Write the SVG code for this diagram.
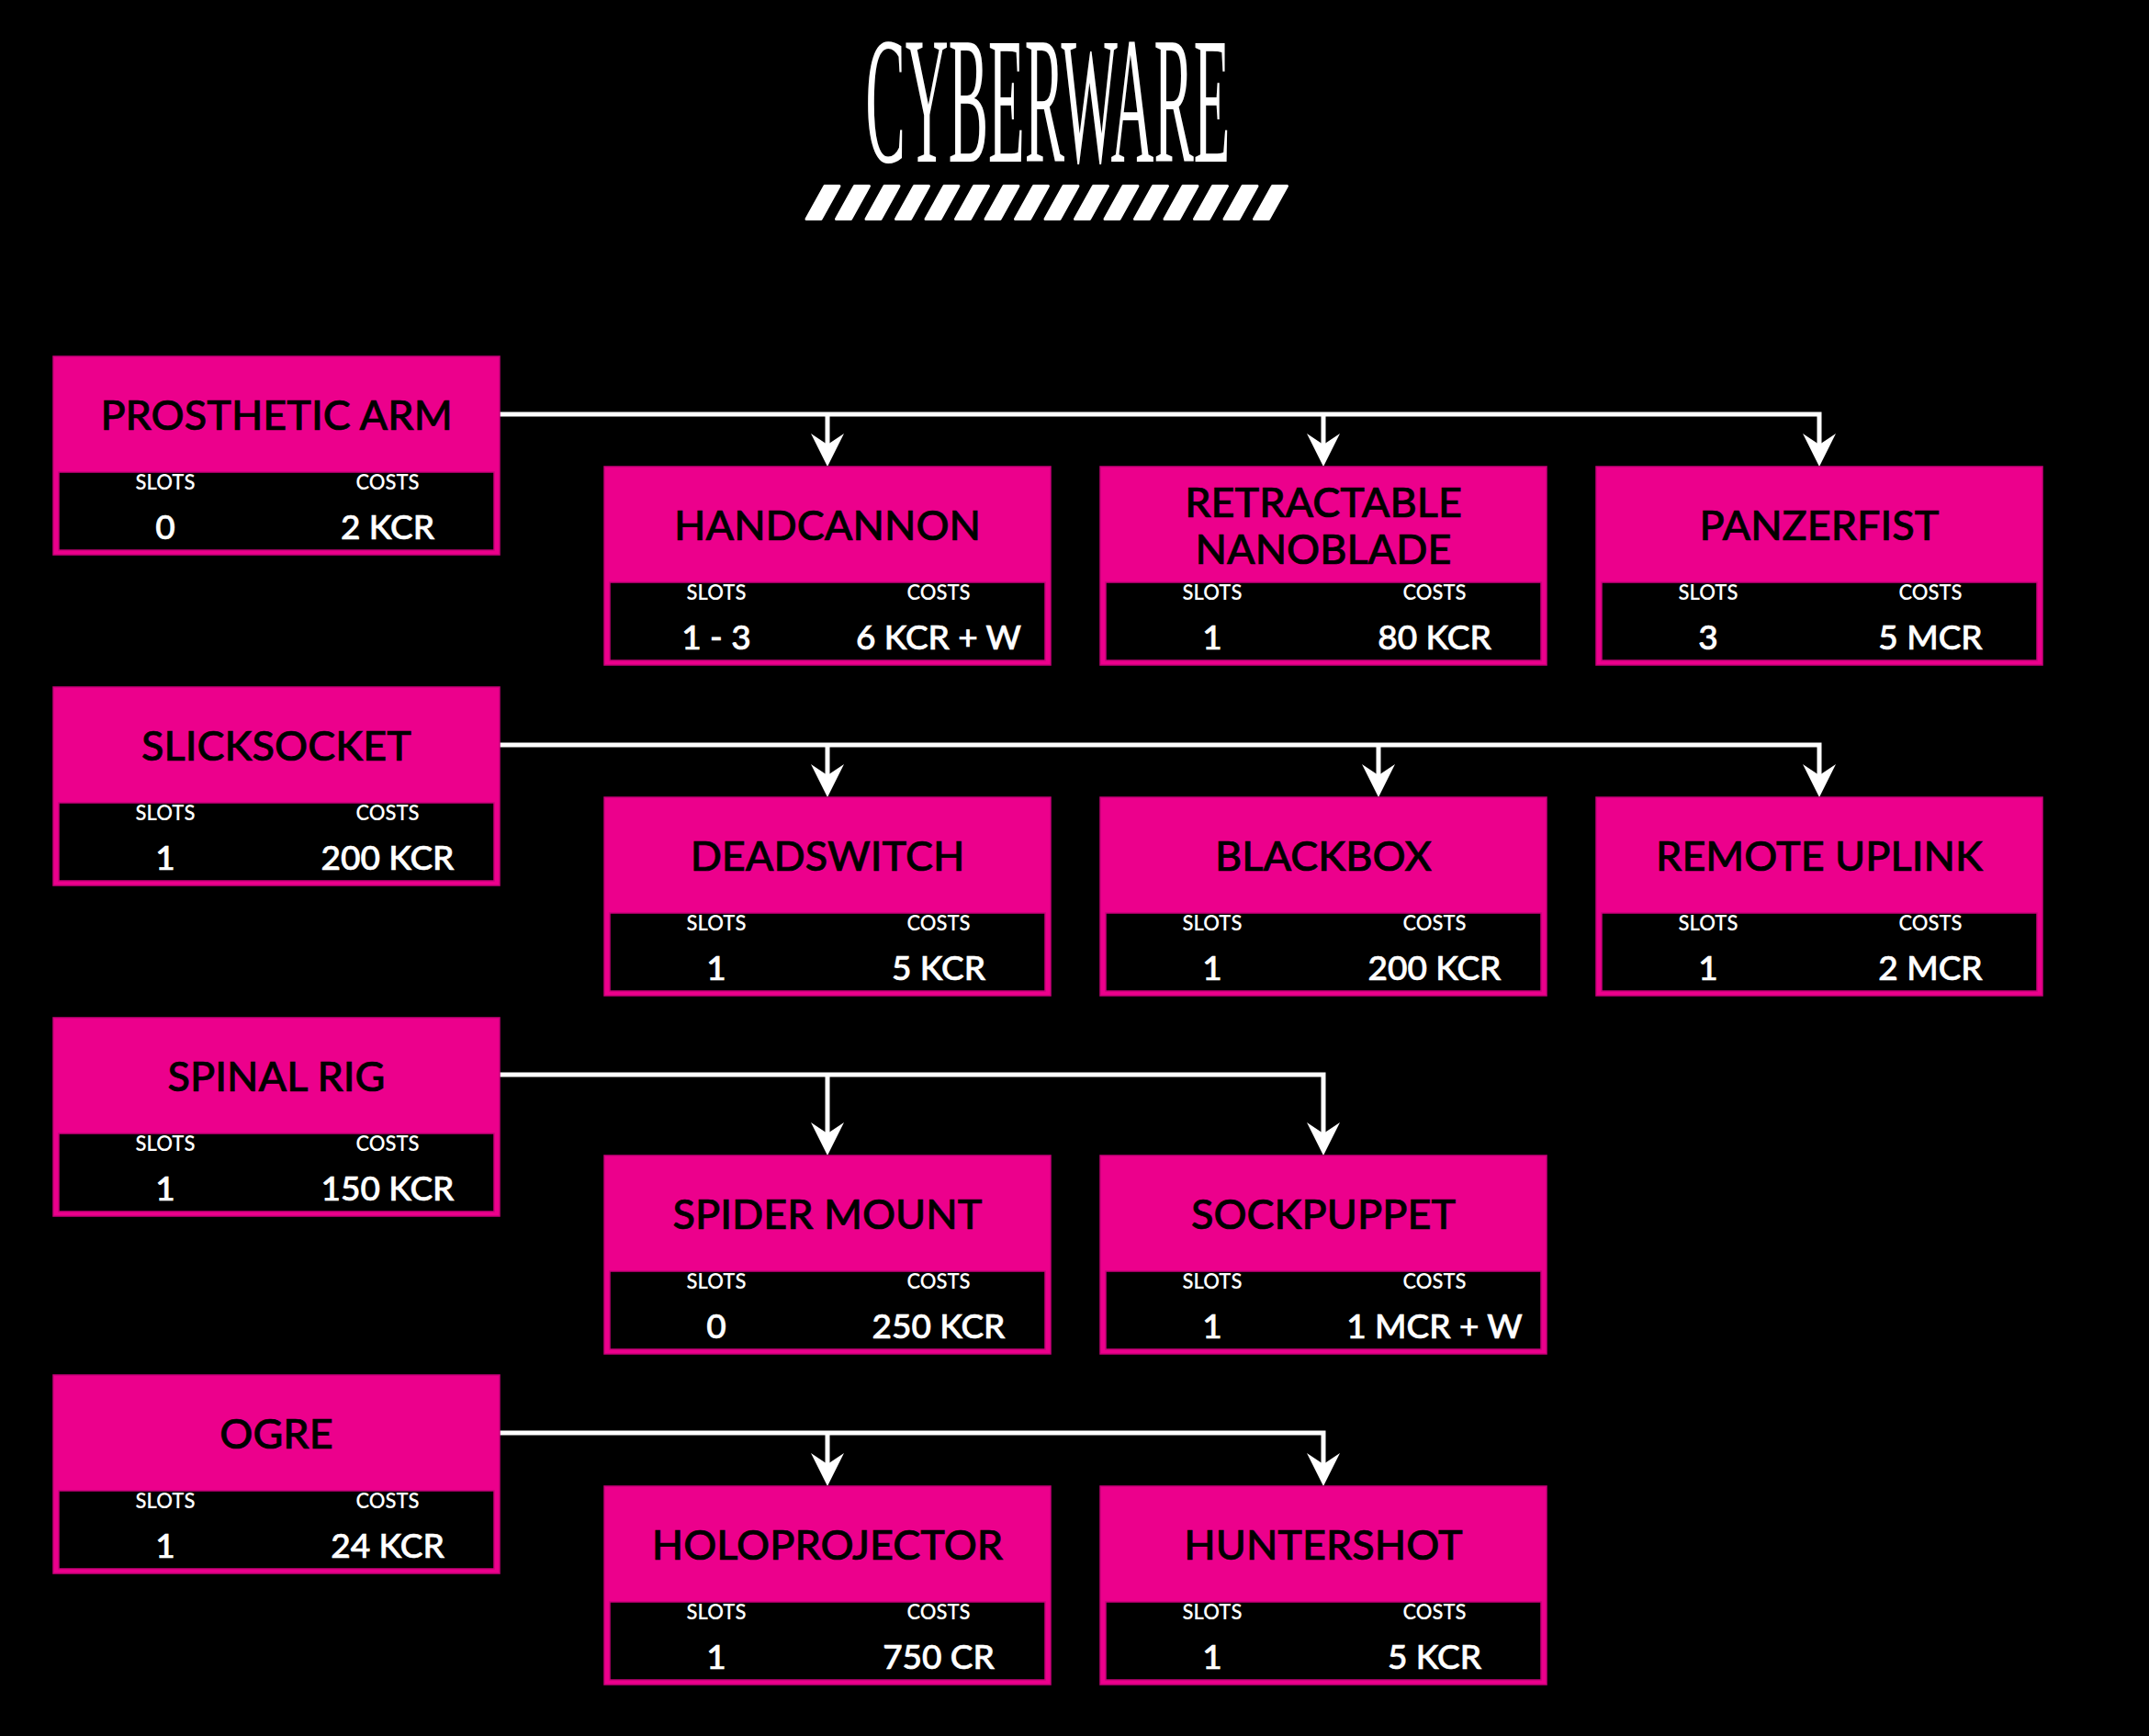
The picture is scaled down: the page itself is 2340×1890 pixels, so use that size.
<svg xmlns="http://www.w3.org/2000/svg" width="2340" height="1890" viewBox="0 0 2340 1890">
<style>
.bg{fill:#000}
.card{fill:#ec008c;stroke:#c8007a;stroke-width:1.5}
.body{fill:#000;stroke:#c8007a;stroke-width:1.5}
.ttl{font-family:Lato,"Noto Sans",sans-serif;font-size:45px;font-weight:500;fill:#000;stroke:#000;stroke-width:0.7;text-anchor:middle}
.lbl{font-family:Lato,"Noto Sans",sans-serif;font-size:22px;font-weight:600;fill:#fff;text-anchor:middle}
.val{font-family:Lato,"Noto Sans",sans-serif;font-size:37px;font-weight:500;fill:#fff;stroke:#fff;stroke-width:0.7;text-anchor:middle}
.con{fill:none;stroke:#fff;stroke-width:5;stroke-linejoin:miter}
.head{font-family:"Liberation Serif","DejaVu Serif",serif;font-size:198px;fill:#fff;text-anchor:middle}
</style>
<defs>
<marker id="arr" markerUnits="userSpaceOnUse" markerWidth="40" markerHeight="40" viewBox="0 0 40 40" refX="12" refY="20" orient="auto">
<path d="M0,2 L36,20 L0,38 L12,20 z" fill="#fff"/>
</marker>
<path id="stripe" d="M23,202.5 H39 L19,238.5 H3 Z" fill="#fff" stroke="#fff" stroke-width="3" stroke-linejoin="round"/>
</defs>
<rect class="bg" x="0" y="0" width="2340" height="1890"/>

<g id="title">
<text class="head" transform="translate(1141,176) scale(0.328,1)">CYBERWARE</text>
<g id="stripes">
<use href="#stripe" x="875"/><use href="#stripe" x="907.5"/><use href="#stripe" x="940"/><use href="#stripe" x="972.5"/>
<use href="#stripe" x="1005"/><use href="#stripe" x="1037.5"/><use href="#stripe" x="1070"/><use href="#stripe" x="1102.5"/>
<use href="#stripe" x="1135"/><use href="#stripe" x="1167.5"/><use href="#stripe" x="1200"/><use href="#stripe" x="1232.5"/>
<use href="#stripe" x="1265"/><use href="#stripe" x="1297.5"/><use href="#stripe" x="1330"/><use href="#stripe" x="1362.5"/>
</g>
</g>

<g id="connectors">
<path class="con" d="M544,451 H1981 V484" marker-end="url(#arr)"/>
<path class="con" d="M901,451 V484" marker-end="url(#arr)"/>
<path class="con" d="M1441,451 V484" marker-end="url(#arr)"/>
<path class="con" d="M544,811 H1981 V844" marker-end="url(#arr)"/>
<path class="con" d="M901,811 V844" marker-end="url(#arr)"/>
<path class="con" d="M1501,811 V844" marker-end="url(#arr)"/>
<path class="con" d="M544,1170 H1441 V1234" marker-end="url(#arr)"/>
<path class="con" d="M901,1170 V1234" marker-end="url(#arr)"/>
<path class="con" d="M544,1560 H1441 V1594" marker-end="url(#arr)"/>
<path class="con" d="M901,1560 V1594" marker-end="url(#arr)"/>
</g>

<g id="prosthetic-arm">
<rect class="card" x="58" y="388" width="486" height="216"/><rect class="body" x="64" y="514" width="474" height="85"/>
<text class="ttl" x="301" y="468">PROSTHETIC ARM</text>
<text class="lbl" x="180" y="533">SLOTS</text><text class="lbl" x="422" y="533">COSTS</text>
<text class="val" x="180" y="587">0</text><text class="val" x="422" y="587">2 KCR</text>
</g>
<g id="handcannon">
<rect class="card" x="658" y="508" width="486" height="216"/><rect class="body" x="664" y="634" width="474" height="85"/>
<text class="ttl" x="901" y="588">HANDCANNON</text>
<text class="lbl" x="780" y="653">SLOTS</text><text class="lbl" x="1022" y="653">COSTS</text>
<text class="val" x="780" y="707">1 - 3</text><text class="val" x="1022" y="707">6 KCR + W</text>
</g>
<g id="retractable-nanoblade">
<rect class="card" x="1198" y="508" width="486" height="216"/><rect class="body" x="1204" y="634" width="474" height="85"/>
<text class="ttl" x="1441" y="563">RETRACTABLE</text><text class="ttl" x="1441" y="614">NANOBLADE</text>
<text class="lbl" x="1320" y="653">SLOTS</text><text class="lbl" x="1562" y="653">COSTS</text>
<text class="val" x="1320" y="707">1</text><text class="val" x="1562" y="707">80 KCR</text>
</g>
<g id="panzerfist">
<rect class="card" x="1738" y="508" width="486" height="216"/><rect class="body" x="1744" y="634" width="474" height="85"/>
<text class="ttl" x="1981" y="588">PANZERFIST</text>
<text class="lbl" x="1860" y="653">SLOTS</text><text class="lbl" x="2102" y="653">COSTS</text>
<text class="val" x="1860" y="707">3</text><text class="val" x="2102" y="707">5 MCR</text>
</g>

<g id="slicksocket">
<rect class="card" x="58" y="748" width="486" height="216"/><rect class="body" x="64" y="874" width="474" height="85"/>
<text class="ttl" x="301" y="828">SLICKSOCKET</text>
<text class="lbl" x="180" y="893">SLOTS</text><text class="lbl" x="422" y="893">COSTS</text>
<text class="val" x="180" y="947">1</text><text class="val" x="422" y="947">200 KCR</text>
</g>
<g id="deadswitch">
<rect class="card" x="658" y="868" width="486" height="216"/><rect class="body" x="664" y="994" width="474" height="85"/>
<text class="ttl" x="901" y="948">DEADSWITCH</text>
<text class="lbl" x="780" y="1013">SLOTS</text><text class="lbl" x="1022" y="1013">COSTS</text>
<text class="val" x="780" y="1067">1</text><text class="val" x="1022" y="1067">5 KCR</text>
</g>
<g id="blackbox">
<rect class="card" x="1198" y="868" width="486" height="216"/><rect class="body" x="1204" y="994" width="474" height="85"/>
<text class="ttl" x="1441" y="948">BLACKBOX</text>
<text class="lbl" x="1320" y="1013">SLOTS</text><text class="lbl" x="1562" y="1013">COSTS</text>
<text class="val" x="1320" y="1067">1</text><text class="val" x="1562" y="1067">200 KCR</text>
</g>
<g id="remote-uplink">
<rect class="card" x="1738" y="868" width="486" height="216"/><rect class="body" x="1744" y="994" width="474" height="85"/>
<text class="ttl" x="1981" y="948">REMOTE UPLINK</text>
<text class="lbl" x="1860" y="1013">SLOTS</text><text class="lbl" x="2102" y="1013">COSTS</text>
<text class="val" x="1860" y="1067">1</text><text class="val" x="2102" y="1067">2 MCR</text>
</g>

<g id="spinal-rig">
<rect class="card" x="58" y="1108" width="486" height="216"/><rect class="body" x="64" y="1234" width="474" height="85"/>
<text class="ttl" x="301" y="1188">SPINAL RIG</text>
<text class="lbl" x="180" y="1253">SLOTS</text><text class="lbl" x="422" y="1253">COSTS</text>
<text class="val" x="180" y="1307">1</text><text class="val" x="422" y="1307">150 KCR</text>
</g>
<g id="spider-mount">
<rect class="card" x="658" y="1258" width="486" height="216"/><rect class="body" x="664" y="1384" width="474" height="85"/>
<text class="ttl" x="901" y="1338">SPIDER MOUNT</text>
<text class="lbl" x="780" y="1403">SLOTS</text><text class="lbl" x="1022" y="1403">COSTS</text>
<text class="val" x="780" y="1457">0</text><text class="val" x="1022" y="1457">250 KCR</text>
</g>
<g id="sockpuppet">
<rect class="card" x="1198" y="1258" width="486" height="216"/><rect class="body" x="1204" y="1384" width="474" height="85"/>
<text class="ttl" x="1441" y="1338">SOCKPUPPET</text>
<text class="lbl" x="1320" y="1403">SLOTS</text><text class="lbl" x="1562" y="1403">COSTS</text>
<text class="val" x="1320" y="1457">1</text><text class="val" x="1562" y="1457">1 MCR + W</text>
</g>

<g id="ogre">
<rect class="card" x="58" y="1497" width="486" height="216"/><rect class="body" x="64" y="1623" width="474" height="85"/>
<text class="ttl" x="301" y="1577">OGRE</text>
<text class="lbl" x="180" y="1642">SLOTS</text><text class="lbl" x="422" y="1642">COSTS</text>
<text class="val" x="180" y="1696">1</text><text class="val" x="422" y="1696">24 KCR</text>
</g>
<g id="holoprojector">
<rect class="card" x="658" y="1618" width="486" height="216"/><rect class="body" x="664" y="1744" width="474" height="85"/>
<text class="ttl" x="901" y="1698">HOLOPROJECTOR</text>
<text class="lbl" x="780" y="1763">SLOTS</text><text class="lbl" x="1022" y="1763">COSTS</text>
<text class="val" x="780" y="1817">1</text><text class="val" x="1022" y="1817">750 CR</text>
</g>
<g id="huntershot">
<rect class="card" x="1198" y="1618" width="486" height="216"/><rect class="body" x="1204" y="1744" width="474" height="85"/>
<text class="ttl" x="1441" y="1698">HUNTERSHOT</text>
<text class="lbl" x="1320" y="1763">SLOTS</text><text class="lbl" x="1562" y="1763">COSTS</text>
<text class="val" x="1320" y="1817">1</text><text class="val" x="1562" y="1817">5 KCR</text>
</g>
</svg>
